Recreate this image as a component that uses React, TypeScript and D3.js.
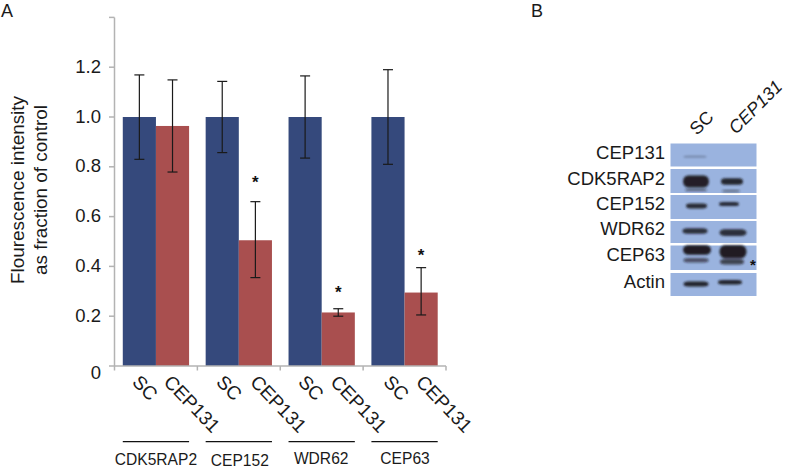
import React from "react";
import * as d3 from "d3";

const groups = ["CDK5RAP2", "CEP152", "WDR62", "CEP63"];
const conditions = ["SC", "CEP131"];
const means = [
  [1.0, 0.964],
  [1.0, 0.505],
  [1.0, 0.215],
  [1.0, 0.295],
];
const upper = [
  [1.169, 1.149],
  [1.143, 0.66],
  [1.165, 0.23],
  [1.19, 0.395],
];
const lower = [
  [0.83, 0.779],
  [0.857, 0.355],
  [0.835, 0.2],
  [0.81, 0.205],
];
const starLevel = [
  [null, null],
  [null, 0.747],
  [null, 0.305],
  [null, 0.454],
];
const yTicks = [0, 0.2, 0.4, 0.6, 0.8, 1.0, 1.2, 1.4];
const scNudge = [8.5, 9.7, 8.7, 11];
const cepNudge = [40, 43.5, 41, 43.5];
const groupLabelShift = [0, 1, -0.5, 0.5];
const groupLabelBase = [465, 465.5, 464, 464];

const blotNames = ["CEP131", "CDK5RAP2", "CEP152", "WDR62", "CEP63", "Actin"];
const blotTops = [143.5, 169, 195, 221, 245.5, 273];
const blotBottoms = [166.5, 193, 219, 243, 270, 296];
const blotBaselines = [159.3, 185, 210, 235, 260.7, 288];
// centre x, centre y, half width, half height, opacity
const blotBands: [number, number, number, number, number][] = [
  [695, 156.7, 11.5, 0.9, 0.28],
  [696, 181.5, 13, 6, 0.95],
  [696, 190, 11, 1.1, 0.6],
  [732, 181.5, 11, 3.3, 0.9],
  [731, 191, 9, 0.9, 0.5],
  [696.5, 206, 10.5, 2.4, 0.88],
  [729, 204, 10, 2.1, 0.88],
  [695, 231, 12.5, 2.8, 0.85],
  [733, 232.7, 13.5, 3.4, 0.85],
  [697, 250, 14, 4.8, 0.97],
  [733, 251.7, 13.5, 6.5, 0.97],
  [696, 260.3, 12.5, 2.2, 0.62],
  [732, 261.7, 12, 2.7, 0.72],
  [696, 284, 12.5, 2.5, 0.92],
  [730, 282.3, 12, 2.2, 0.92],
];

const x0 = d3.scaleBand<string>().domain(groups).range([114.5, 446]).paddingInner(0.2).paddingOuter(0.1);
const y = d3.scaleLinear().domain([0, 1.4]).range([366, 17.4]);
const barColors = ["#34497b", "#a9504f"];
const SANS = "'Liberation Sans', Arial, sans-serif";
const bandW = x0.bandwidth() / 2;

export default function App() {
  const boundaries = d3.range(groups.length + 1).map((i) => 114.5 + (i * (446 - 114.5)) / groups.length);
  return (
    <svg width={785} height={468} style={{ position: "absolute", left: 0, top: 0, background: "#fff" }} fontFamily={SANS} fill="#1a1a1a">
      <defs>
        <filter id="soft" x="-30%" y="-60%" width="160%" height="220%">
          <feGaussianBlur stdDeviation="1" />
        </filter>
        <filter id="barSoft" x="-5%" y="-5%" width="110%" height="110%">
          <feGaussianBlur stdDeviation="0.4" />
        </filter>
      </defs>
      <text x={1} y={16.5} fontSize={18}>A</text>
      <text x={531} y={16.5} fontSize={18}>B</text>

      <g filter="url(#barSoft)">
        {groups.map((g, gi) =>
          conditions.map((c, ci) => {
            const bx = x0(g)! + ci * bandW;
            return <rect key={g + c} x={bx} y={y(means[gi][ci])} width={bandW} height={y(0) - y(means[gi][ci])} fill={barColors[ci]} />;
          })
        )}
      </g>

      <g stroke="#b3b3b3" strokeWidth={1.5} fill="none">
        <line x1={114.5} x2={114.5} y1={y(1.4)} y2={y(0)} />
        <line x1={114.5} x2={446} y1={y(0)} y2={y(0)} />
        {yTicks.map((t) => <line key={t} x1={109} x2={114.5} y1={y(t)} y2={y(t)} />)}
        {boundaries.map((b) => <line key={b} x1={b} x2={b} y1={y(0)} y2={y(0) + 4.5} />)}
      </g>

      {yTicks.filter((t) => t < 1.3).map((t) => (
        <text key={t} x={101} y={y(t) + (t === 0 ? 13 : 5.5)} textAnchor="end" fontSize={18.5}>
          {t === 0 ? "0" : t.toFixed(1)}
        </text>
      ))}

      <g fontSize={18.9} textAnchor="middle">
        <text transform="translate(24.3,190) rotate(-90)">Flourescence intensity</text>
        <text transform="translate(47,190) rotate(-90)">as fraction of control</text>
      </g>

      <g stroke="#1a1a1a" strokeWidth={1.2} fill="none">
        {groups.map((g, gi) =>
          conditions.map((c, ci) => {
            const cx = x0(g)! + (ci + 0.5) * bandW;
            return (
              <g key={g + c}>
                <line x1={cx} x2={cx} y1={y(upper[gi][ci])} y2={y(lower[gi][ci])} />
                <line x1={cx - 5} x2={cx + 5} y1={y(upper[gi][ci])} y2={y(upper[gi][ci])} />
                <line x1={cx - 5} x2={cx + 5} y1={y(lower[gi][ci])} y2={y(lower[gi][ci])} />
              </g>
            );
          })
        )}
      </g>

      {groups.map((g, gi) =>
        conditions.map((c, ci) => {
          const s = starLevel[gi][ci];
          return s === null ? null : (
            <text key={g + c} x={x0(g)! + (ci + 0.5) * bandW} y={y(s) + 8} textAnchor="middle" fontSize={17} fontWeight="bold" fill="#111">*</text>
          );
        })
      )}

      {groups.map((g, gi) => {
        const left = x0(g)!;
        return (
          <g key={g}>
            <text transform={`translate(${left + scNudge[gi]},383) rotate(46)`} fontSize={19}>{conditions[0]}</text>
            <text transform={`translate(${left + cepNudge[gi]},383) rotate(46)`} fontSize={19}>{conditions[1]}</text>
            <line x1={left} x2={left + x0.bandwidth()} y1={441.7} y2={441.7} stroke="#111" strokeWidth={1.2} />
            <text x={left + x0.bandwidth() / 2 + groupLabelShift[gi]} y={groupLabelBase[gi]} textAnchor="middle" fontSize={15.6}>{g}</text>
          </g>
        );
      })}

      <text transform="translate(697,136) rotate(-45)" fontSize={18}>{conditions[0]}</text>
      <text transform="translate(736,135) rotate(-45)" fontSize={18} fontStyle="italic">{conditions[1]}</text>

      {blotNames.map((n, i) => (
        <g key={n}>
          <rect x={670.5} y={blotTops[i]} width={86} height={blotBottoms[i] - blotTops[i]} fill="#9ab3df" />
          <text x={665} y={blotBaselines[i]} textAnchor="end" fontSize={18.5}>{n}</text>
        </g>
      ))}
      <g filter="url(#soft)">
        {blotBands.map((b, i) => (
          <rect key={i} x={b[0] - b[2]} y={b[1] - b[3]} width={b[2] * 2} height={b[3] * 2} rx={b[2] * 0.4} ry={b[3]} fill="#1a181c" opacity={b[4]} />
        ))}
      </g>
      <text x={753} y={270} textAnchor="middle" fontSize={15} fontWeight="bold" fill="#111">*</text>
    </svg>
  );
}
